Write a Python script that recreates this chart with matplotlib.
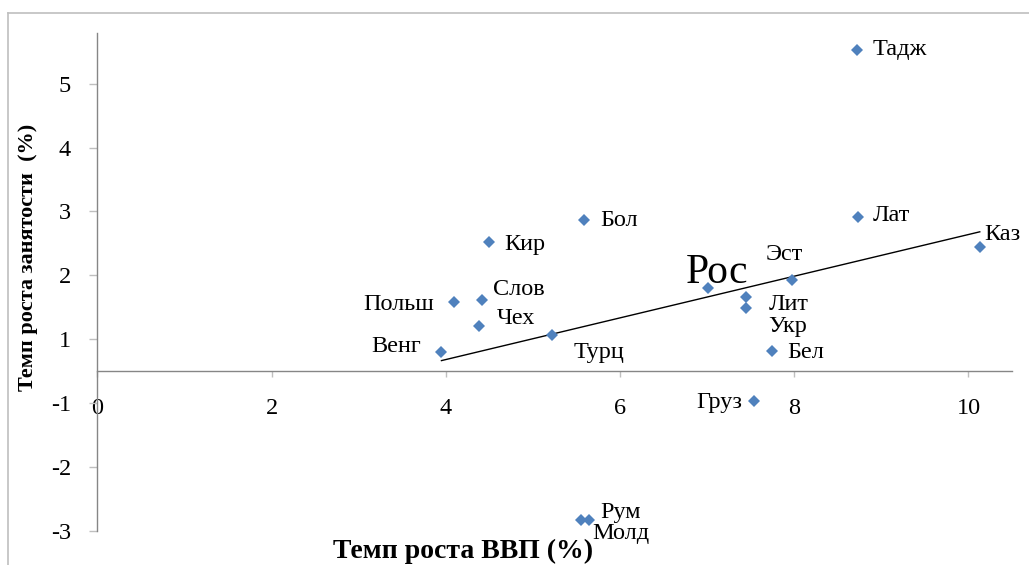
import numpy as np
import matplotlib
matplotlib.use("Agg")
import matplotlib.pyplot as plt
from matplotlib.lines import Line2D

# Data (x: GDP growth %, y: employment growth %, linear axis space)
countries = ["Тадж", "Лат", "Каз", "Эст", "Рос", "Лит", "Укр", "Бел", "Груз",
             "Кир", "Бол", "Польш", "Слов", "Чех", "Турц", "Венг", "Молд", "Рум"]
gdp = [8.72, 8.73, 10.13, 7.98, 7.01, 7.45, 7.45, 7.75, 7.54,
       4.49, 5.59, 4.09, 4.41, 4.38, 5.22, 3.95, 5.55, 5.64]
emp = [5.53, 2.92, 2.45, 1.93, 1.80, 1.66, 1.49, 0.82, 0.04,
       2.52, 2.87, 1.59, 1.62, 1.21, 1.07, 0.80, -1.83, -1.83]

# Tick positions and their printed labels (as in the reference)
xticks = [0, 2, 4, 6, 8, 10]
xticklabels = ["0", "2", "4", "6", "8", "10"]
yticks = [5, 4, 3, 2, 1, 0, -1, -2]
yticklabels = ["5", "4", "3", "2", "1", "-1", "-2", "-3"]

# label placement: (dx px, dy px (down positive), ha, fontsize)
label_style = {
    "Тадж": (16, 0, "left", 17.5),
    "Лат": (15, -1, "left", 17.5),
    "Каз": (5, -12, "left", 17.5),
    "Эст": (-27, -25, "left", 17.5),
    "Рос": (9, -15, "center", 30),
    "Лит": (22, 7, "left", 17.5),
    "Укр": (22, 19, "left", 17.5),
    "Бел": (15, 2, "left", 17.5),
    "Груз": (-12, 2, "right", 17.5),
    "Кир": (16, 2, "left", 17.5),
    "Бол": (16, 1, "left", 17.5),
    "Польш": (-20, 3, "right", 17.5),
    "Слов": (11, -10, "left", 17.5),
    "Чех": (18, -7, "left", 17.5),
    "Турц": (21, 18, "left", 17.5),
    "Венг": (-20, -6, "right", 17.5),
    "Молд": (11, 13, "left", 17.5),
    "Рум": (12, -8, "left", 17.5),
}

plt.rcParams["font.family"] = ["Liberation Serif", "DejaVu Serif"]

W, H = 1029, 565
fig = plt.figure(figsize=(W / 100, H / 100), dpi=100)
ax = fig.add_axes([97.4 / W, 1 - 531 / H, (1012 - 97.4) / W, (531 - 32.5) / H])
ax.set_xlim(0, 10.5)
ax.set_ylim(-2, 5.8)
ax.patch.set_alpha(0)

axis_color = "#868686"
for s in ["top", "right"]:
    ax.spines[s].set_visible(False)
ax.spines["left"].set_position(("data", 0))
ax.spines["bottom"].set_position(("data", 0.5))
for s in ["left", "bottom"]:
    ax.spines[s].set_color(axis_color)
    ax.spines[s].set_linewidth(1.0)

ax.set_xticks(xticks)
ax.set_xticklabels(xticklabels)
ax.set_yticks(yticks)
ax.set_yticklabels(yticklabels)
ax.tick_params(axis="x", direction="out", length=4, width=1, color="#BFBFBF",
               pad=15, labelsize=17.5)
ax.tick_params(axis="y", direction="out", length=6, width=1, color="#BFBFBF",
               pad=13, labelsize=17.5)

# scatter points
ax.plot(gdp, emp, linestyle="none", marker="D", markersize=6.3,
        color="#4F81BD", markeredgewidth=0, zorder=3, clip_on=False)

# linear trend line
coef = np.polyfit(gdp, emp, 1)
xt = np.array([min(gdp), max(gdp)])
ax.plot(xt, np.polyval(coef, xt), color="black", linewidth=1.0, zorder=2)

# labels
for name, x, y in zip(countries, gdp, emp):
    dx, dy, ha, fs = label_style[name]
    ax.annotate(name, (x, y), xytext=(dx * 0.72, -dy * 0.72),
                textcoords="offset points", ha=ha, va="center",
                fontsize=fs, color="black", annotation_clip=False)

# axis titles
fig.text(28 / W, 1 - 257 / H, "Темп роста занятости  (%)", rotation=90,
         ha="center", va="center", fontsize=16, fontweight="bold")
fig.text(463 / W, 1 - 551 / H, "Темп роста ВВП (%)", ha="center", va="center",
         fontsize=20, fontweight="bold")

# outer frame (top and left edges visible)
fig.add_artist(Line2D([8 / W, 1.0], [1 - 13 / H, 1 - 13 / H], color="#BFBFBF",
                      linewidth=1.2, transform=fig.transFigure))
fig.add_artist(Line2D([8 / W, 8 / W], [1 - 13 / H, 0.0], color="#BFBFBF",
                      linewidth=1.2, transform=fig.transFigure))

fig.savefig("out.png", dpi=100)
